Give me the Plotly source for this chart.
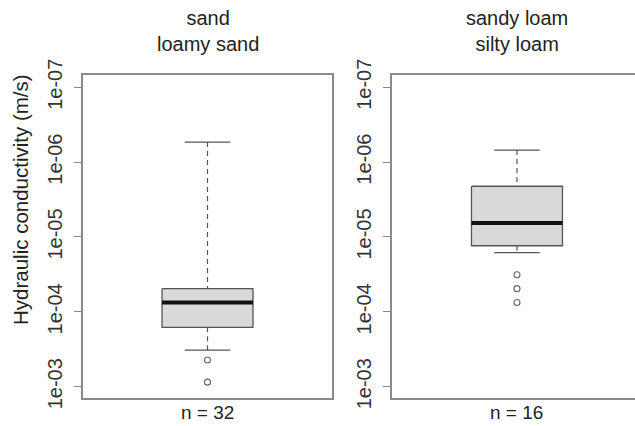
import plotly.graph_objects as go

# Hydraulic conductivity (m/s) summary statistics per soil-texture group
groups = ["sand<br>loamy sand", "sandy loam<br>silty loam"]
counts = [32, 16]
whisker_min = [5.4e-7, 6.9e-7]
box_low = [4.9e-5, 2.1e-6]
medians = [7.5e-5, 6.5e-6]
box_high = [1.61e-4, 1.31e-5]
whisker_max = [3.24e-4, 1.62e-5]
outliers = [[4.4e-4, 8.7e-4], [3.2e-5, 4.9e-5, 7.5e-5]]

tick_vals = [1e-7, 1e-6, 1e-5, 1e-4, 1e-3]
tick_text = ["1e-07", "1e-06", "1e-05", "1e-04", "1e-03"]

W, H = 635, 426
FONT = "Liberation Sans, Arial, sans-serif"
FRAME = "#8a8a8a"
EDGE = "#555555"

# panel placement in pixels
panels_px = [(83, 332), (392, 635)]
top_px, bottom_px = 75, 398
x_ranges = [[0.48, 1.52], [0.478, 1.493]]
y_range = [-2.849, -7.164]  # log10 units, reversed: larger K at the bottom

hw, cw = 0.19, 0.095  # box half width, whisker cap half width

fig = go.Figure()

for i in range(2):
    xa = "x" if i == 0 else "x2"
    ya = "y" if i == 0 else "y2"
    c = 1.0
    # whiskers (dashed)
    fig.add_trace(go.Scatter(x=[c, c], y=[whisker_min[i], box_low[i]], mode="lines",
                             line=dict(color=EDGE, width=1.2, dash="5px,4px"),
                             xaxis=xa, yaxis=ya, showlegend=False, hoverinfo="skip"))
    fig.add_trace(go.Scatter(x=[c, c], y=[box_high[i], whisker_max[i]], mode="lines",
                             line=dict(color=EDGE, width=1.2, dash="5px,4px"),
                             xaxis=xa, yaxis=ya, showlegend=False, hoverinfo="skip"))
    # whisker caps
    for v in (whisker_min[i], whisker_max[i]):
        fig.add_trace(go.Scatter(x=[c - cw, c + cw], y=[v, v], mode="lines",
                                 line=dict(color=EDGE, width=1.3),
                                 xaxis=xa, yaxis=ya, showlegend=False, hoverinfo="skip"))
    # box
    fig.add_trace(go.Scatter(x=[c - hw, c + hw, c + hw, c - hw, c - hw],
                             y=[box_low[i], box_low[i], box_high[i], box_high[i], box_low[i]],
                             mode="lines", fill="toself", fillcolor="#d9d9d9",
                             line=dict(color=EDGE, width=1.3),
                             xaxis=xa, yaxis=ya, showlegend=False, hoverinfo="skip"))
    # median
    fig.add_trace(go.Scatter(x=[c - hw, c + hw], y=[medians[i], medians[i]], mode="lines",
                             line=dict(color="#111111", width=4),
                             xaxis=xa, yaxis=ya, showlegend=False, hoverinfo="skip"))
    # outliers
    fig.add_trace(go.Scatter(x=[c] * len(outliers[i]), y=outliers[i], mode="markers",
                             marker=dict(symbol="circle-open", size=6, color="#666666",
                                         line=dict(width=1.1)),
                             xaxis=xa, yaxis=ya, showlegend=False, hoverinfo="skip"))

axis_font = dict(family=FONT, size=20, color="#333333")
for i in range(2):
    l, r = panels_px[i]
    xkey = "xaxis" if i == 0 else "xaxis2"
    ykey = "yaxis" if i == 0 else "yaxis2"
    fig.layout[xkey] = dict(domain=[l / W, r / W], range=x_ranges[i], automargin=False,
                            showline=True, mirror=True, linecolor=FRAME, linewidth=1.6,
                            showgrid=False, zeroline=False, showticklabels=False, ticks="",
                            anchor="y" if i == 0 else "y2")
    fig.layout[ykey] = dict(domain=[1 - bottom_px / H, 1 - top_px / H], type="log",
                            range=y_range, showline=True, mirror=(i == 0), automargin=False,
                            linecolor=FRAME, linewidth=1.6, showgrid=False, zeroline=False,
                            tickvals=tick_vals, ticktext=tick_text, tickangle=-90,
                            ticks="outside", ticklen=7, tickcolor=FRAME, tickwidth=1.3,
                            ticklabelstandoff=4, tickfont=axis_font,
                            anchor="x" if i == 0 else "x2")

    # panel title and sample size
    fig.add_annotation(text=groups[i], x=1.0, xref="x" if i == 0 else "x2",
                       y=1 - 31 / H, yref="paper", yanchor="middle", xanchor="center",
                       showarrow=False, font=dict(family=FONT, size=20, color="#222222"))
    fig.add_annotation(text=f"n = {counts[i]}", x=1.0, xref="x" if i == 0 else "x2",
                       y=1 - 412 / H, yref="paper", yanchor="middle", xanchor="center",
                       showarrow=False, font=dict(family=FONT, size=19, color="#222222"))

fig.add_annotation(text="Hydraulic conductivity (m/s)", textangle=-90,
                   x=20 / W, y=1 - 200 / H, xref="paper", yref="paper",
                   xanchor="center", yanchor="middle", showarrow=False,
                   font=dict(family=FONT, size=20.5, color="#222222"))

fig.update_layout(width=W, height=H, margin=dict(l=0, r=0, t=0, b=0, pad=0),
                  paper_bgcolor="white", plot_bgcolor="white")

fig.write_html("out.html")
